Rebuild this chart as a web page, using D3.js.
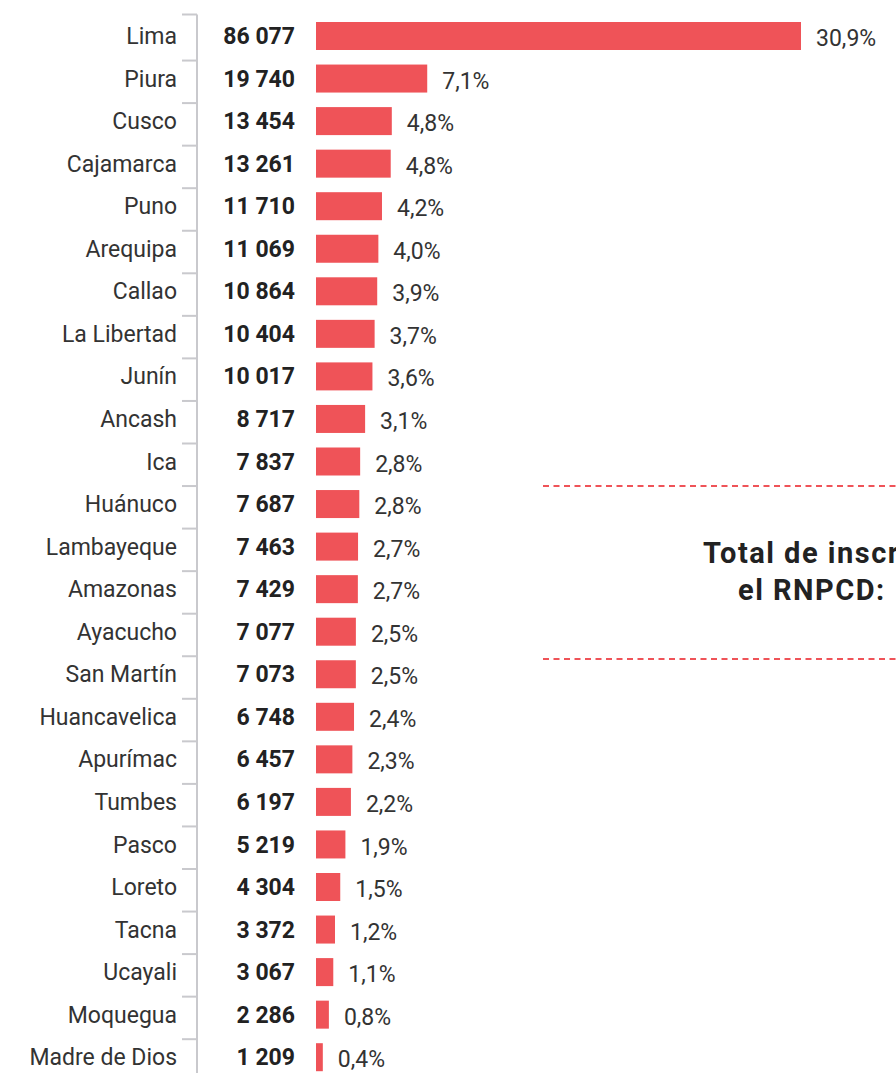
<!DOCTYPE html>
<html>
<head>
<meta charset="utf-8">
<script src="https://cdn.jsdelivr.net/npm/d3@7"></script>
<style>
  html, body { margin: 0; padding: 0; background: #fff; overflow: hidden; }
  #chart { width: 896px; height: 1073px; }
  text { font-family: Roboto, "Noto Sans", sans-serif; }
</style>
</head>
<body>
<div id="chart"></div>
<script>
const regions = ["Lima", "Piura", "Cusco", "Cajamarca", "Puno", "Arequipa", "Callao",
    "La Libertad", "Junín", "Ancash", "Ica", "Huánuco", "Lambayeque", "Amazonas",
    "Ayacucho", "San Martín", "Huancavelica", "Apurímac", "Tumbes", "Pasco", "Loreto",
    "Tacna", "Ucayali", "Moquegua", "Madre de Dios"];
const inscritos = [86077, 19740, 13454, 13261, 11710, 11069, 10864, 10404, 10017, 8717,
    7837, 7687, 7463, 7429, 7077, 7073, 6748, 6457, 6197, 5219, 4304, 3372, 3067, 2286, 1209];
const porcentajes = ["30,9%", "7,1%", "4,8%", "4,8%", "4,2%", "4,0%", "3,9%", "3,7%", "3,6%",
    "3,1%", "2,8%", "2,8%", "2,7%", "2,7%", "2,5%", "2,5%", "2,4%", "2,3%", "2,2%", "1,9%",
    "1,5%", "1,2%", "1,1%", "0,8%", "0,4%"];
const totalLines = ["Total de inscritos en", "el RNPCD:"];

const data = regions.map((r, i) => ({region: r, value: inscritos[i], pct: porcentajes[i]}));

const W = 896, H = 1073;
const RED = "#ef5358";
const fmt = d3.formatLocale({thousands: " ", grouping: [3], decimal: ",", currency: ["", ""]}).format(",d");

const svg = d3.select("#chart").append("svg")
    .attr("width", W)
    .attr("height", H);

const y = d3.scaleBand()
    .domain(regions)
    .range([18, 18 + regions.length * 42.55]);

const x = d3.scaleLinear()
    .domain([0, d3.max(inscritos)])
    .range([316, 801]);

// axis on the left, ticks between rows
const axis = svg.append("g").attr("class", "axis");
axis.append("line")
    .attr("x1", 197).attr("x2", 197)
    .attr("y1", 14.5).attr("y2", H)
    .attr("stroke", "#c9c9cd").attr("stroke-width", 2);
axis.selectAll("line.tick")
    .data(regions)
    .join("line")
    .attr("class", "tick")
    .attr("x1", 182).attr("x2", 197)
    .attr("y1", (d, i) => i === 0 ? 14.5 : y(d))
    .attr("y2", (d, i) => i === 0 ? 14.5 : y(d))
    .attr("stroke", "#c9c9cd").attr("stroke-width", 2);

const rows = svg.append("g").attr("class", "rows")
    .selectAll("g")
    .data(data)
    .join("g")
    .attr("transform", d => `translate(0, ${y(d.region) + 18})`);

// region names
rows.append("text")
    .attr("x", 177)
    .attr("dy", "0.35em")
    .attr("text-anchor", "end")
    .style("font-size", "23px")
    .style("fill", "#333")
    .text(d => d.region);

// counts
rows.append("text")
    .attr("x", 295)
    .attr("dy", "0.35em")
    .attr("text-anchor", "end")
    .style("font-size", "23px")
    .style("font-weight", "bold")
    .style("fill", "#222")
    .text(d => fmt(d.value));

// bars
rows.append("rect")
    .attr("x", x(0))
    .attr("y", -14)
    .attr("width", d => x(d.value) - x(0))
    .attr("height", 28)
    .attr("fill", RED);

// percentages
rows.append("text")
    .attr("x", d => x(d.value) + 15)
    .attr("y", 2)
    .attr("dy", "0.35em")
    .style("font-size", "23px")
    .style("fill", "#333")
    .text(d => d.pct);

// total box on the right (runs off the edge like the original)
const box = svg.append("g").attr("class", "total");
[486, 659].forEach(yy => {
    box.append("line")
        .attr("x1", 543).attr("x2", W)
        .attr("y1", yy).attr("y2", yy)
        .attr("stroke", RED)
        .attr("stroke-width", 2)
        .attr("stroke-dasharray", "6 4.5");
});
box.selectAll("text")
    .data(totalLines)
    .join("text")
    .attr("x", (d, i) => i === 0 ? 703 : 738)
    .attr("y", (d, i) => 563 + i * 37)
    .style("font-size", "29px")
    .style("font-weight", "bold")
    .style("letter-spacing", "1.5px")
    .style("fill", "#222")
    .text(d => d);
</script>
</body>
</html>
